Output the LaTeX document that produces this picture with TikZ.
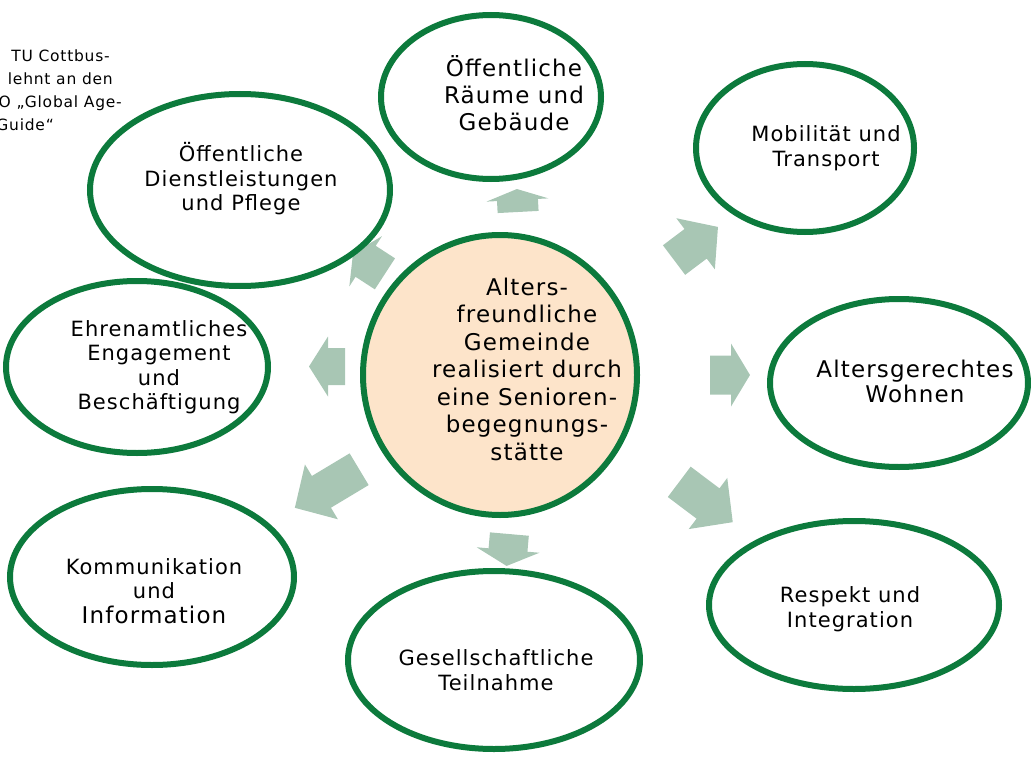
\documentclass[tikz,border=0pt]{standalone}
\usepackage{fontspec}
\setmainfont{DejaVu Sans}[LetterSpace=5]
\usetikzlibrary{shapes.geometric}

\definecolor{ringgreen}{RGB}{12,122,60}
\definecolor{arrowsage}{RGB}{168,198,180}
\definecolor{corepeach}{RGB}{253,228,202}

% block arrow: centre x, centre y, angle, length, head width, body width, head length
\newcommand\blockarrow[7]{%
  \begin{scope}[shift={(#1,#2)}, rotate=#3]
    \fill[arrowsage] ({-#4/2},{-#6/2}) -- ({#4/2-#7},{-#6/2}) -- ({#4/2-#7},{-#5/2})
      -- ({#4/2},0) -- ({#4/2-#7},{#5/2}) -- ({#4/2-#7},{#6/2}) -- ({-#4/2},{#6/2}) -- cycle;
  \end{scope}}

\begin{document}
\begin{tikzpicture}[x=1pt,y=-1pt,
  ring/.style={ellipse, draw=ringgreen, line width=6pt, fill=white, inner sep=0pt},
  txt/.style={align=center, inner sep=0pt, font=\fontsize{21}{24.5}\selectfont},
  bigtxt/.style={align=center, inner sep=0pt, font=\fontsize{23}{27.5}\selectfont},
  note/.style={anchor=base east, inner sep=0pt, font=\fontsize{15.5}{17}\selectfont}
]
\useasboundingbox (0,0) rectangle (1031,757);
\clip (0,0) rectangle (1031,757);

% source note, top left
\node[note] (n1) at (110,62) {TU Cottbus-};
\node[note] (n2) at (113,85) {lehnt an den};
\node[note] (n3) at (122,108) {O „Global Age-};
\node[note] (n4) at (54,131) {Guide“};

% arrows from the centre outwards
\blockarrow{517.5}{200.5}{93}{23}{62}{41}{11}
\blockarrow{696}{243.5}{37}{55}{64}{37}{28}
\blockarrow{730}{375}{0}{40}{63}{39}{19}
\blockarrow{706}{502}{-37}{67}{64}{38}{31}
\blockarrow{508}{550}{-95}{32}{63}{39}{16}
\blockarrow{327}{488.5}{-149}{75}{64}{37}{31}
\blockarrow{327}{366.5}{180}{36}{60}{37}{19}
\blockarrow{369}{263.5}{147}{38}{60}{37}{15}

% centre
\node[ring, fill=corepeach, minimum width=274, minimum height=280] (core) at (500,375) {};
\node[bigtxt] (coretxt) at (527,369) {Alters-\\freundliche\\Gemeinde\\realisiert durch\\eine Senioren-\\begegnungs-\\stätte};

% surrounding fields
\node[ring, minimum width=220, minimum height=164] (e1) at (491,97) {};
\node[bigtxt, font=\fontsize{23}{27}\selectfont] (t1) at (514,93) {Öffentliche\\Räume und\\Gebäude};

\node[ring, minimum width=218, minimum height=168] (e2) at (805,148) {};
\node[txt] (t2) at (826,148) {Mobilität und\\Transport};

\node[ring, minimum width=258, minimum height=168] (e3) at (899,383) {};
\node[txt, font=\fontsize{23}{25}\selectfont] (t3) at (915,381) {Altersgerechtes\\Wohnen};

\node[ring, minimum width=290, minimum height=168] (e4) at (854,605) {};
\node[txt] (t4) at (850,609) {Respekt und\\Integration};

\node[ring, minimum width=292, minimum height=178] (e5) at (494,660) {};
\node[txt] (t5) at (496,670) {Gesellschaftliche\\Teilnahme};

\node[ring, minimum width=284, minimum height=176] (e6) at (152,577) {};
\node[txt] (t6) at (154,591) {Kommunikation\\und\\{\fontsize{23}{26}\selectfont Information}};

\node[ring, minimum width=262, minimum height=172] (e7) at (137,367) {};
\node[txt] (t7) at (159,367) {Ehrenamtliches\\Engagement\\und\\Beschäftigung};

\node[ring, minimum width=300, minimum height=192] (e8) at (240,190) {};
\node[txt] (t8) at (241,179) {Öffentliche\\Dienstleistungen\\und Pflege};
\end{tikzpicture}
\end{document}
